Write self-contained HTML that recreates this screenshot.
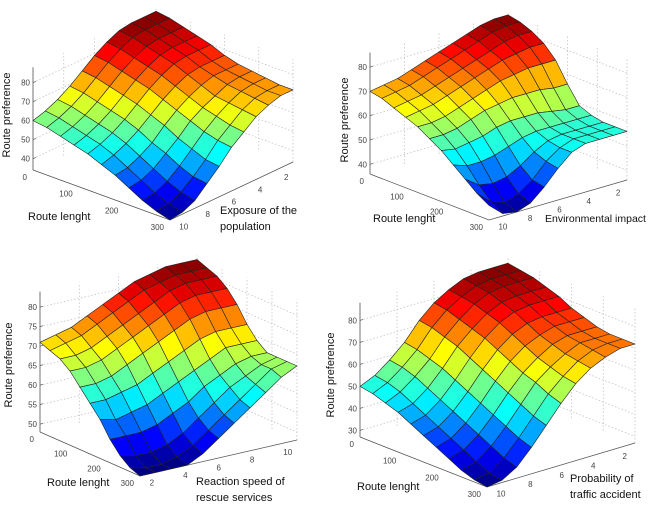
<!DOCTYPE html>
<html><head><meta charset="utf-8">
<style>
html,body{margin:0;padding:0;background:#fff;}
svg{display:block;font-family:"Liberation Sans",Arial,sans-serif;}
.tk{font-size:8px;fill:#444;}
.lb{font-size:11px;fill:#111;}
</style></head>
<body>
<svg id="chart" width="650" height="505" viewBox="0 0 650 505" xmlns="http://www.w3.org/2000/svg"></svg>
<script>
// Panel data: z grids (rows = route length index 0..300, cols = second factor)
const zExposure = [
[60,62,65,69,74,79,83,86,87,87,87],
[59,61,64,68,73,78,82,85,86,86,86],
[57,59,62,66,71,76,80,83,84,84,84],
[55,57,60,64,69,74,78,81,82,82,82],
[53,55,58,62,67,72,76,79,80,80,80],
[50,52,55,59,64,69,73,76,77,77,77],
[47,48,51,55,61,66,70,73,75,75,75],
[43,44,47,52,57,63,67,70,73,74,74],
[39,40,43,48,54,60,65,69,72,73,73],
[36,37,40,45,51,58,63,68,71,72,72],
[34,35,38,44,50,57,62,67,70,72,72]];
const zEnvironment = [
[70,71,72,74,76,78,80,82,84,85,85],
[69,70,71,73,75,77,79,81,83,84,84],
[67,68,69,71,73,75,77,79,81,82,82],
[65,66,67,69,71,73,75,77,78,79,79],
[63,63,64,66,68,70,72,73,74,74,74],
[60,60,61,63,65,66,67,67,67,66,66],
[57,56,57,58,60,61,61,61,60,59,59],
[53,51,51,52,54,56,57,57,57,57,57],
[49,45,44,45,48,52,55,56,56,56,56],
[45,40,38,40,44,50,54,56,56,56,56],
[42,37,36,38,43,49,54,56,56,56,56]];
const zReaction = [
[71,72,73,75,77,79,81,82,83,83,83],
[70,71,72,74,76,78,80,81,82,82,82],
[69,69,70,72,74,76,78,80,81,81,81],
[67,67,68,70,72,74,76,78,79,79,79],
[64,64,65,67,69,71,73,75,76,76,76],
[61,61,62,63,65,67,69,71,72,72,72],
[58,57,58,59,61,63,65,67,69,69,69],
[54,54,54,55,57,59,62,64,66,67,67],
[51,50,50,51,53,56,59,62,64,66,67],
[49,48,48,49,51,54,57,60,63,66,67],
[48,48,48,48,50,53,56,59,62,65,67]];
const zAccident = [
[50,53,58,64,72,78,82,85,86,86,86],
[49,52,57,63,71,77,81,84,85,85,85],
[47,50,55,61,69,75,80,83,84,84,84],
[45,47,52,59,67,73,78,81,82,82,82],
[42,44,49,56,64,71,76,79,80,80,80],
[39,41,46,53,61,68,73,76,77,77,77],
[36,38,43,50,58,65,70,73,75,75,75],
[33,35,40,47,55,62,67,71,73,73,73],
[30,32,37,44,52,60,65,69,72,72,72],
[28,29,34,41,49,57,63,68,71,72,72],
[27,28,32,39,47,55,62,67,70,72,72]];
const routeTicks = ["0","100","200","300"];
const factorTicksDesc = ["10","8","6","4","2"];
const factorTicksAsc = ["2","4","6","8","10"];
const zTicks1 = [40,50,60,70,80];
const zTicks2 = [40,50,60,70,80];
const zTicks3 = [50,55,60,65,70,75,80];
const zTicks4 = [30,40,50,60,70,80];

const NS="http://www.w3.org/2000/svg";
const svg=document.getElementById('chart');
function mk(tag,attrs,parent){const e=document.createElementNS(NS,tag);for(const k in attrs)e.setAttribute(k,attrs[k]);(parent||svg).appendChild(e);return e;}
function jet(t){t=Math.max(0,Math.min(1,t));
 const r=Math.max(0,Math.min(1,1.5-Math.abs(4*t-3)));
 const g=Math.max(0,Math.min(1,1.5-Math.abs(4*t-2)));
 const b=Math.max(0,Math.min(1,1.5-Math.abs(4*t-1)));
 return `rgb(${Math.round(r*255)},${Math.round(g*255)},${Math.round(b*255)})`;}

const panels=[
 {name:'exposure',z:zExposure,L:[33,170],F:[170,220],R:[293,162],zb:34,k:1.9,zt:zTicks1,ztop:88,ft:factorTicksDesc,
  yl:[10,115],rl:[28,220],fl:[[220,214,'Exposure of the',11],[220,230,'population',11]]},
 {name:'environment',z:zEnvironment,L:[370,174],F:[489,220],R:[627,180],zb:36,k:2.43,zt:zTicks2,ztop:86,ft:factorTicksDesc,
  yl:[348,120],rl:[373,222],fl:[[545,222,'Environmental impact',10.5]]},
 {name:'reaction',z:zReaction,L:[40,432],F:[140,476],R:[297,440],zb:48,k:3.9,zt:zTicks3,ztop:84,ft:factorTicksAsc,
  yl:[12,365],rl:[47,486],fl:[[196,485,'Reaction speed of',11],[196,501,'rescue services',11]]},
 {name:'accident',z:zAccident,L:[360,437],F:[487,487],R:[635,443],zb:27,k:2.2,zt:zTicks4,ztop:88,ft:factorTicksDesc,
  yl:[334,375],rl:[357,490],fl:[[570,482,'Probability of',11],[570,498,'traffic accident',11]]}
];

panels.forEach(p=>{
 const g=mk('g',{});
 
 
 const n=p.z.length-1, m=p.z[0].length-1;
 function P(u,v,z){
  const x=p.L[0]+u*(p.F[0]-p.L[0])+v*(p.R[0]-p.F[0]);
  const y=p.L[1]+u*(p.F[1]-p.L[1])+v*(p.R[1]-p.F[1])-(z-p.zb)*p.k;
  return [x,y];}
 const wall=mk('g',{},g);
 
 
 p.zt.forEach(z=>{
  const a=P(0,0,z),b=P(0,1,z),c=P(1,1,z);
  mk('polyline',{points:`${a} ${b} ${c}`,fill:'none',stroke:'#bbb','stroke-width':0.7,'stroke-dasharray':'1.5,2'},wall);
 });
 for(let q=0;q<=4;q++){
  const a=P(0,q/4,p.zb),b=P(0,q/4,p.ztop);
  mk('line',{x1:a[0],y1:a[1],x2:b[0],y2:b[1],stroke:'#bbb','stroke-width':0.7,'stroke-dasharray':'1.5,2'},wall);
  const c=P(q/4,1,p.zb),d=P(q/4,1,p.ztop);
  mk('line',{x1:c[0],y1:c[1],x2:d[0],y2:d[1],stroke:'#bbb','stroke-width':0.7,'stroke-dasharray':'1.5,2'},wall);
 }
 const zt=P(0,0,p.ztop);
 const zAxis=mk('line',{x1:p.L[0],y1:p.L[1],x2:zt[0],y2:zt[1],stroke:'#555','stroke-width':0.8},g);
 
 
 const ax=mk('polyline',{points:`${p.L} ${p.F} ${p.R}`,fill:'none',stroke:'#555','stroke-width':0.8},g);
 
 
 p.zt.forEach(z=>{
  const a=P(0,0,z);
  mk('line',{x1:a[0],y1:a[1],x2:a[0]+3,y2:a[1]-1,stroke:'#555','stroke-width':0.7},g);
  const t=mk('text',{x:a[0]-3,y:a[1]+3,'text-anchor':'end',class:'tk'},g);
  t.textContent=z;
  
  
 });
 routeTicks.forEach((s,i)=>{
  const a=P(i/(routeTicks.length-1),0,p.zb);
  const t=mk('text',{x:a[0]-6,y:a[1]+10,'text-anchor':'end',class:'tk'},g);
  t.textContent=s;
  
  
 });
 p.ft.forEach((s,i)=>{
  const a=P(1,(i+0.05)/(p.ft.length-0.3),p.zb);
  const t=mk('text',{x:a[0]+8,y:a[1]+10,'text-anchor':'start',class:'tk'},g);
  t.textContent=s;
  
  
 });
 let mn=Infinity,mx=-Infinity;
 p.z.forEach(r=>r.forEach(v=>{mn=Math.min(mn,v);mx=Math.max(mx,v);}));
 const cells=[];
 for(let i=0;i<n;i++)for(let j=0;j<m;j++)cells.push([i,j]);
 cells.sort((a,b)=>(a[0]-a[1])-(b[0]-b[1]));
 const sg=mk('g',{},g);
 
 
 cells.forEach(([i,j])=>{
  const zs=[p.z[i][j],p.z[i+1][j],p.z[i+1][j+1],p.z[i][j+1]];
  const pts=[P(i/n,j/m,zs[0]),P((i+1)/n,j/m,zs[1]),P((i+1)/n,(j+1)/m,zs[2]),P(i/n,(j+1)/m,zs[3])];
  const avg=(zs[0]+zs[1]+zs[2]+zs[3])/4;
  const c=mk('polygon',{points:pts.map(q=>q[0].toFixed(1)+','+q[1].toFixed(1)).join(' '),fill:jet((avg-mn)/(mx-mn)),stroke:'#222','stroke-width':0.6,'stroke-linejoin':'round'},sg);
  
  
 });
 const yl=mk('text',{x:p.yl[0],y:p.yl[1],'text-anchor':'middle',class:'lb',transform:`rotate(-90 ${p.yl[0]} ${p.yl[1]})`},g);
 yl.textContent='Route preference';
 
 
 const rl=mk('text',{x:p.rl[0],y:p.rl[1],class:'lb'},g);
 rl.textContent='Route lenght';
 
 
 p.fl.forEach(f=>{
  const t=mk('text',{x:f[0],y:f[1],class:'lb','font-size':f[3]},g);
  t.style.fontSize=f[3]+'px';
  t.textContent=f[2];
  
  
 });
});
</script>
</body></html>
